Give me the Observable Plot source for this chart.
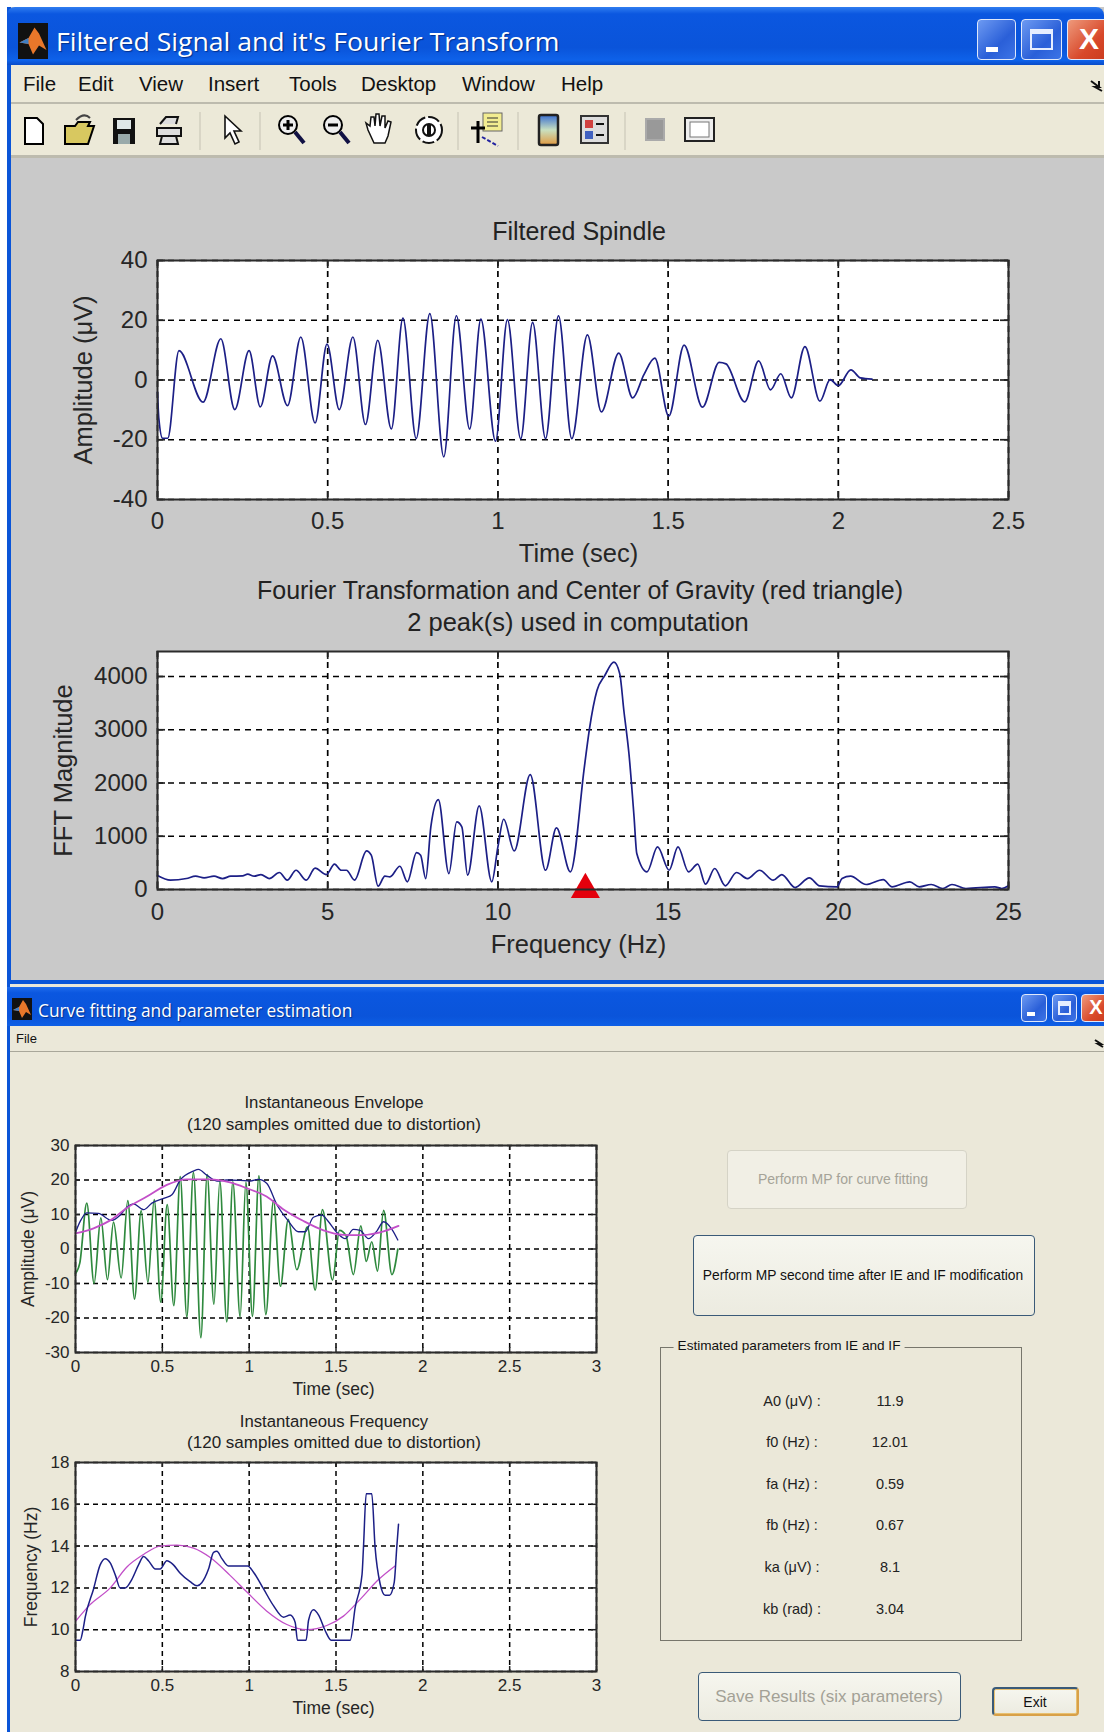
<!DOCTYPE html>
<html>
<head>
<meta charset="utf-8">
<script src="https://cdn.jsdelivr.net/npm/d3@7"></script>
<script src="https://cdn.jsdelivr.net/npm/@observablehq/plot@0.6"></script>
<style>
html,body{margin:0;padding:0;background:#fff}
#page{position:relative;width:1104px;height:1732px;overflow:hidden;font-family:"Liberation Sans",Arial,sans-serif;color:#222}
.abs{position:absolute}
.t{position:absolute;white-space:nowrap;transform:translate(-50%,-50%)}
.l{position:absolute;white-space:nowrap;transform:translateY(-50%)}
.chart{position:absolute;left:0}
.chart svg{background:transparent!important;display:block;overflow:visible}
.btn{position:absolute;box-sizing:border-box;border-radius:4px;background:linear-gradient(#f6f6ef,#ecebe0)}
.wb{position:absolute;box-sizing:border-box;border:1.5px solid #dfe8fb;border-radius:4px;color:#fff;text-align:center;font-weight:bold}
</style>
</head>
<body>
<div id="page"></div>
<script>
// ---------- Filtered spindle ----------
const spindleT = [0,.004,.015,.03,.063,.134,.186,.227,.269,.302,.338,.382,.421,.463,.498,.534,.574,.611,.647,.687,.721,.760,.800,.841,.878,.917,.950,.993,1.028,1.067,1.102,1.14,1.178,1.217,1.263,1.304,1.355,1.396,1.429,1.461,1.502,1.547,1.601,1.650,1.670,1.725,1.766,1.801,1.831,1.862,1.902,1.946,1.976,2.0,2.037,2.065,2.099];
const spindleV = [-4,-13,-19.5,-19.5,9.8,-7.4,13.8,-9.9,9.8,-9,8.1,-8.6,14.4,-14.4,12,-9.9,14.4,-14.9,13.3,-16.4,20.7,-19.6,22.2,-25.7,21.5,-16.4,20.4,-20.5,20.2,-19.7,19.3,-19.6,21.5,-19.6,15.1,-10.7,9,-6,1.8,7.3,-12.1,11.7,-9.1,5.9,5.4,-7.3,6.4,-3.3,2.1,-6,11.2,-7.1,0.1,-1.9,3.4,.7,.3];
// ---------- FFT ----------
const fftF = [0,.38,.85,1.12,1.37,1.66,1.91,2.15,2.5,2.65,2.84,3.04,3.28,3.58,3.81,4.07,4.37,4.63,4.96,5.2,5.4,5.55,5.79,6.14,6.28,6.48,6.68,6.83,7.12,7.34,7.61,7.73,7.88,8.03,8.25,8.56,8.79,8.94,9.11,9.45,9.82,10,10.17,10.48,10.95,11.4,11.72,12.13,12.54,12.69,12.91,13.14,13.41,13.58,13.7,13.85,14,14.08,14.38,14.69,15.03,15.29,15.6,15.87,16.1,16.37,16.68,17.01,17.33,17.69,18.09,18.34,18.73,19.15,19.45,19.96,20.11,20.36,20.82,21.32,21.58,22.1,22.38,22.73,23.07,23.34,23.75,24.6,24.8,25];
const fftM = [262,175,206,250,219,250,206,250,256,287,250,281,206,319,175,362,175,400,281,475,362,362,175,725,644,62,250,237,437,144,694,644,206,1175,1687,300,1269,1175,269,1569,144,800,1319,725,2156,362,1156,331,2300,3019,3737,4019,4269,4050,3362,2550,1362,675,331,800,362,800,331,475,100,394,69,319,206,362,175,281,37,219,69,50,206,250,94,187,50,144,50,94,19,94,19,50,19,69];
const cogF = [12.57];
const cogM = [0];
// ---------- Instantaneous envelope ----------
const signalT = [0,.025,.065,.107,.146,.184,.219,.263,.301,.34,.378,.417,.453,.491,.528,.566,.603,.641,.679,.722,.758,.797,.831,.871,.906,.948,.981,1.019,1.056,1.096,1.14,1.18,1.225,1.274,1.336,1.38,1.422,1.48,1.52,1.558,1.6,1.643,1.674,1.706,1.739,1.774,1.822,1.856];
const signalV = [-7.1,-4,13.3,-10,9,-8.9,7.8,-8.4,14,-14.5,11.1,-9.7,14.3,-15.4,12.9,-16.4,21,-19.7,22.2,-25.7,21.6,-16,19.7,-21.1,19.5,-19.7,19.3,-19.5,21.2,-19,14,-10.8,8.6,-6,6.4,-11.9,11.4,-9,5.4,3.8,-7.4,6.7,-3.6,2.1,-6.4,11.2,-7.4,0];
const envT = [0,.027,.065,.132,.209,.257,.296,.334,.392,.44,.516,.555,.603,.679,.708,.756,.814,.871,.948,1.006,1.054,1.102,1.159,1.226,1.284,1.322,1.37,1.418,1.457,1.505,1.553,1.6,1.639,1.687,1.735,1.774,1.822,1.856];
const envV = [4.8,8,10.5,10.3,8.3,9.8,12.1,13.1,11.4,13.3,14.8,15.7,20,22.6,23.1,21.4,19.7,20,19.9,19.7,20.2,19,12.9,8.1,5,5,9.2,9.8,7.9,4.8,3,5.7,5.4,3,5.2,7.9,5.7,2.6];
const envFitT = [0,.104,.2,.296,.411,.526,.641,.775,.89,.987,1.1,1.2,1.313,1.428,1.543,1.639,1.754,1.86];
const envFitV = [4.5,6,8.3,11.9,15.2,18.6,20.2,20.2,19.3,17.6,15.2,11.4,8.1,5.4,4.1,4,4.8,6.7];
// ---------- Instantaneous frequency ----------
const ifT = [0,.027,.042,.056,.104,.142,.171,.2,.23,.257,.286,.324,.363,.392,.42,.46,.487,.526,.564,.603,.66,.7,.727,.766,.795,.814,.843,.88,.992,1.025,1.083,1.14,1.198,1.236,1.265,1.278,1.328,1.342,1.37,1.4,1.438,1.472,1.582,1.61,1.65,1.658,1.674,1.706,1.725,1.754,1.783,1.808,1.835,1.85,1.86];
const ifV = [9.5,9.5,9.95,10.6,11.95,13.1,13.4,13.2,12.6,12,12,12.4,13.1,13.5,13.3,12.9,12.9,13.3,13.1,12.7,12.3,12.1,12.25,12.9,13.7,13.75,13.4,13.05,13.05,12.75,11.95,11.15,10.6,10.7,10.35,9.5,9.5,10.45,10.95,10.7,9.95,9.5,9.5,11.05,12.65,13.9,16.5,16.5,13.95,12.2,11.65,11.65,12.25,13.95,15.05];
const ifFitT = [0,.084,.2,.296,.392,.487,.584,.68,.776,.89,.987,1.1,1.217,1.332,1.447,1.543,1.639,1.745,1.84];
const ifFitV = [10.4,11.2,12,13,13.6,14,14.05,13.9,13.45,12.6,11.8,10.9,10.25,10,10.2,10.65,11.45,12.4,13.05];
// ---------- Ticks ----------
const xTicks1 = [0,.5,1,1.5,2,2.5];
const yTicks1 = [-40,-20,0,20,40];
const xTicks2 = [0,5,10,15,20,25];
const yTicks2 = [0,1000,2000,3000,4000];
const xTicks3 = [0,.5,1,1.5,2,2.5,3];
const yTicks3 = [-30,-20,-10,0,10,20,30];
const yTicks4 = [8,10,12,14,16,18];
// ---------- Text ----------
const menuTop = [["File",25],["Edit",80],["View",141],["Insert",210],["Tools",291],["Desktop",363],["Window",464],["Help",563]];
const paramNames = ["A0 (μV) :","f0 (Hz) :","fa (Hz) :","fb (Hz) :","ka (μV) :","kb (rad) :"];
const paramValues = ["11.9","12.01","0.59","0.67","8.1","3.04"];
const paramY = [1401,1442,1484,1525,1567,1609];

const page = document.getElementById("page");
function box(css, html){const d=document.createElement("div");d.className="abs";d.style.cssText=css;if(html)d.innerHTML=html;page.appendChild(d);return d;}
function label(text,x,y,size,opts={}){const d=document.createElement("div");d.className="t";d.textContent=text;
  d.style.cssText=`left:${x}px;top:${y}px;font-size:${size}px;${opts.css||""}`;
  page.appendChild(d);return d;}

// window 1 chrome
box("left:7px;top:7px;width:1097px;height:980px;background:#c9c9c9;border-left:4px solid #0a55d8;box-sizing:border-box");
box("left:7px;top:7px;width:1097px;height:58px;border-radius:8px 8px 0 0;background:linear-gradient(#2f7df0 0,#0b57e0 12%,#0a54da 70%,#0e62ea 92%,#0a4cc8 100%)");
box("left:11px;top:65px;width:1093px;height:39px;background:#ece9d8;border-bottom:2px solid #bdbbae;box-sizing:border-box");
box("left:11px;top:104px;width:1093px;height:54px;background:#ece9d8;border-bottom:3px solid #bdbbae;box-sizing:border-box");
box("left:7px;top:980px;width:1097px;height:7px;background:#0a55d8");
// window 2 chrome
box("left:7px;top:984px;width:1097px;height:748px;background:#ebe8d9;border-left:3px solid #0a55d8;box-sizing:border-box");
box("left:7px;top:987px;width:1097px;height:39px;background:linear-gradient(#1f6cec 0,#0b57e0 15%,#0a54da 75%,#0e5fe6 100%)");
box("left:10px;top:1051px;width:1094px;height:1px;background:#a9a79a");

const matlabIcon=(x,y,w,h)=>box(`left:${x}px;top:${y}px;width:${w}px;height:${h}px;background:#111`,
 `<svg width="${w}" height="${h}" viewBox="0 0 20 22"><path d="M1 12 L7 9 L11 2 L14 6 L19 17 L14 14 L10 20 L7 13 Z" fill="#e8772a"/><path d="M1 12 L7 9 L7 13 Z" fill="#3f7fc4"/></svg>`);
matlabIcon(18,23,30,36);
matlabIcon(12,998,20,22);

function wbtns(a,b,c,top,h,fs){
 const blue="background:linear-gradient(135deg,#6d9af2,#2a5fd8 60%,#3d74e6)";
 const m=document.createElement("div");m.className="wb";m.style.cssText=`left:${a[0]}px;width:${a[1]}px;top:${top}px;height:${h}px;${blue}`;
 m.innerHTML=`<div style="position:absolute;left:22%;bottom:18%;width:${Math.round(a[1]*.3)}px;height:${Math.round(h*.13)}px;background:#fff"></div>`;page.appendChild(m);
 const n=document.createElement("div");n.className="wb";n.style.cssText=`left:${b[0]}px;width:${b[1]}px;top:${top}px;height:${h}px;${blue}`;
 n.innerHTML=`<div style="position:absolute;left:20%;right:20%;top:22%;bottom:22%;border:2px solid #e6eeff;border-top-width:5px;box-sizing:border-box"></div>`;page.appendChild(n);
 const x=document.createElement("div");x.className="wb";x.style.cssText=`left:${c[0]}px;width:${c[1]}px;top:${top}px;height:${h}px;background:linear-gradient(135deg,#ee9a7c,#d8482a 60%,#c83a1c);font-size:${fs}px;line-height:${h-3}px`;
 x.textContent="X";page.appendChild(x);
}
wbtns([977,39],[1021,41],[1067,44],19,41,30);
wbtns([1021,26],[1052,25],[1081,30],994,28,20);

// titles + menus
{const t=document.createElement("div");t.className="l";t.textContent="Filtered Signal and it's Fourier Transform";
 t.style.cssText="left:56px;top:41px;font:25px 'Open Sans','Liberation Sans',sans-serif;color:#fff;text-shadow:1px 1px 1px #03308c;transform-origin:0 50%;transform:translateY(-50%) scaleX(1.065)";page.appendChild(t);}
{const t=document.createElement("div");t.className="l";t.textContent="Curve fitting and parameter estimation";
 t.style.cssText="left:38px;top:1010px;font:17.5px 'Open Sans','Liberation Sans',sans-serif;color:#fff;text-shadow:1px 1px 1px #03308c;transform-origin:0 50%;transform:translateY(-50%) scaleX(.99)";page.appendChild(t);}
for(const [m,x] of menuTop){const t=document.createElement("div");t.className="l";t.textContent=m;t.style.cssText=`left:${x-2}px;top:84px;font:20.5px 'Liberation Sans',sans-serif;color:#111`;page.appendChild(t);}
{const t=document.createElement("div");t.className="l";t.textContent="File";t.style.cssText="left:16px;top:1038px;font:13px 'Liberation Sans',sans-serif;color:#111";page.appendChild(t);}
// small chevrons
box("left:1090px;top:78px;width:14px;height:14px",`<svg width="14" height="14"><path d="M1 3 L9 9 L5 9 L12 13 M9 3 L9 9" stroke="#111" stroke-width="2" fill="none"/></svg>`);
box("left:1094px;top:1034px;width:10px;height:10px",`<svg width="10" height="10"><path d="M1 2 L7 6 L4 6 L9 9" stroke="#111" stroke-width="2" fill="none"/></svg>`);

// toolbar icons
box("left:0;top:104px;width:1104px;height:54px",`<svg width="1104" height="54" style="display:block">
 <g stroke="#c5c2b3"><path d="M200 8V46M260 8V46M458 8V46M518 8V46M625 8V46"/></g>
 <g transform="translate(0,-104)">
 <path d="M25 118h12l6 6v20h-18z" fill="#fff" stroke="#000" stroke-width="2"/>
 <path d="M65 126h10l3-4h12l-2 4h6l-6 18H65z" fill="#d8c860" stroke="#000" stroke-width="2"/><path d="M76 120q8-8 14-2" stroke="#444" stroke-width="2" fill="none"/>
 <rect x="113" y="118" width="22" height="26" fill="#111"/><rect x="117" y="120" width="14" height="9" fill="#dfe7e7"/><rect x="118" y="134" width="12" height="10" fill="#9aa"/>
 <path d="M160 124l6-7h12l-2 7M157 128h24v8h-24zM162 136h14l2 8h-18z" fill="#ddd" stroke="#111" stroke-width="2"/>
 <path d="M225 116 L225 138 L230 133 L235 144 L239 142 L234 131 L241 131 Z" fill="#fff" stroke="#111" stroke-width="1.6"/>
 <circle cx="288" cy="125" r="9" fill="#eee" stroke="#000" stroke-width="2"/><path d="M283 125h10M288 120v10" stroke="#000" stroke-width="3"/><path d="M295 132 L304 143" stroke="#114" stroke-width="4"/>
 <circle cx="333" cy="125" r="9" fill="#eee" stroke="#000" stroke-width="2"/><path d="M328 125h10" stroke="#000" stroke-width="3"/><path d="M340 132 L349 143" stroke="#114" stroke-width="4"/>
 <path d="M374 143 l-6-13 l-2-7 l4 3 l1-9 l3 0 l1 9 l1-12 l3 0 l1 12 l2-10 l3 0 l0 12 l3-7 l3 1 l-3 14 l-3 7z" fill="#fff" stroke="#111" stroke-width="1.5"/>
 <circle cx="429" cy="130" r="13" fill="#fff" stroke="#111" stroke-width="2" stroke-dasharray="12 3"/><circle cx="429" cy="130" r="6" fill="#fff" stroke="#111" stroke-width="2"/><rect x="427" y="125" width="4" height="10" fill="#111"/>
 <rect x="483" y="113" width="19" height="18" fill="#f2ec90" stroke="#666"/><path d="M487 118h11M487 122h11M487 126h11" stroke="#333"/><path d="M471 128h14M478 121v22" stroke="#000" stroke-width="3"/><path d="M482 137 L498 146" stroke="#2222a0" stroke-width="2" stroke-dasharray="4 2"/>
 <defs><linearGradient id="cb" x1="0" y1="0" x2="0" y2="1"><stop offset="0" stop-color="#3a6fd0"/><stop offset=".5" stop-color="#c9e0c0"/><stop offset="1" stop-color="#e09a40"/></linearGradient></defs>
 <rect x="539" y="115" width="19" height="30" rx="2" fill="url(#cb)" stroke="#222" stroke-width="2.5"/>
 <rect x="581" y="116" width="27" height="27" fill="#ddd" stroke="#333" stroke-width="2"/><rect x="585" y="120" width="8" height="8" fill="#d04040"/><rect x="585" y="131" width="8" height="8" fill="#4060c0"/><path d="M596 124h8M596 135h8" stroke="#111" stroke-width="2"/>
 <rect x="646" y="119" width="18" height="21" fill="#999" stroke="#aaa" stroke-width="2"/>
 <rect x="685" y="118" width="29" height="23" fill="#eee" stroke="#222" stroke-width="2"/><rect x="690" y="122" width="19" height="15" fill="#fff" stroke="#777"/>
 </g></svg>`);

// chart helper
function chart(cfg){
 const {top,height,ml,mr,mt,mb,xd,yd,xt,yt,fs,lfs,xlabel,ylabel,lines,extra=[],dash,tick,xLabelOffset,yLabelOffset,padX,padY,gridW,xDx} = cfg;
 const inX=(yd[1]-yd[0])*tick/(height-mt-mb), inY=(xd[1]-xd[0])*tick/(1104-ml-mr);
 const marks=[
  Plot.frame({fill:"#fff",stroke:null}),
  Plot.ruleX(xt,{stroke:"#000",strokeWidth:gridW,strokeDasharray:dash}),
  Plot.ruleY(yt,{stroke:"#000",strokeWidth:gridW,strokeDasharray:dash}),
  Plot.ruleX(xt,{y1:yd[0],y2:yd[0]+inX,stroke:"#222",strokeWidth:gridW}),
  Plot.ruleX(xt,{y1:yd[1],y2:yd[1]-inX,stroke:"#222",strokeWidth:gridW}),
  Plot.ruleY(yt,{x1:xd[0],x2:xd[0]+inY,stroke:"#222",strokeWidth:gridW}),
  Plot.ruleY(yt,{x1:xd[1],x2:xd[1]-inY,stroke:"#222",strokeWidth:gridW}),
  ...lines,
  ...extra,
  Plot.frame({stroke:"#2b2b2b",strokeWidth:2}),
  Plot.axisX({ticks:xt,tickSize:0,tickPadding:padX,tickFormat:d=>String(d),label:null,fontSize:fs,fill:"#262626"}),
  Plot.axisY({ticks:yt,tickSize:0,tickPadding:padY,tickFormat:d=>String(d),label:null,fontSize:fs,fill:"#262626"}),
  Plot.text([xlabel],{text:d=>d,frameAnchor:"bottom",lineAnchor:"bottom",dx:xDx,dy:xLabelOffset,fontSize:lfs,fill:"#262626"}),
  Plot.axisY({ticks:[],tickSize:0,label:ylabel,labelAnchor:"center",labelArrow:"none",labelOffset:yLabelOffset,fontSize:lfs,fill:"#262626"})
 ];
 const p=Plot.plot({width:1104,height,marginLeft:ml,marginRight:mr,marginTop:mt,marginBottom:mb,
  x:{domain:xd,range:[ml,1104-mr]},y:{domain:yd,range:[height-mb,mt]},
  style:{fontFamily:"'Liberation Sans',Arial,sans-serif",fontSize:fs+"px",background:"transparent",color:"#262626"},marks});
 const w=document.createElement("div");w.className="chart";w.style.top=top+"px";w.appendChild(p);page.appendChild(w);
}
const navy="#1c1f86", green="#2f8a3e", magenta="#c24fc8";
const L=(x,y,stroke,w)=>Plot.line(y,{x,y,stroke,strokeWidth:w,curve:"monotone-x"});

chart({top:200,height:370,ml:157,mr:96,mt:60,mb:71,xd:[0,2.5],yd:[-40,40],xt:xTicks1,yt:yTicks1,fs:24,lfs:25.5,xDx:-4.5,
 xlabel:"Time (sec)",ylabel:"Amplitude (μV)",xLabelOffset:62.5,yLabelOffset:84,padX:12,padY:10,dash:"6,5",tick:8,gridW:1.7,
 lines:[L(spindleT,spindleV,navy,1.7)]});
chart({top:600,height:360,ml:157,mr:96,mt:51,mb:71,xd:[0,25],yd:[0,4470],xt:xTicks2,yt:yTicks2,fs:24,lfs:25.5,xDx:-4.5,
 xlabel:"Frequency (Hz)",ylabel:"FFT Magnitude",xLabelOffset:63.5,yLabelOffset:104,padX:13,padY:10,dash:"6,5",tick:8,gridW:1.7,
 lines:[L(fftF,fftM,navy,1.7)],
 extra:[Plot.dot(cogF,{x:cogF,y:cogM,symbol:"triangle",r:10.8,fill:"#e4000c",stroke:"none"})]});
chart({top:1100,height:300,ml:75,mr:508,mt:45,mb:48,xd:[0,3],yd:[-30,30],xt:xTicks3,yt:yTicks3,fs:17,lfs:17.5,xDx:-2.5,
 xlabel:"Time (sec)",ylabel:"Amplitude (μV)",xLabelOffset:42,yLabelOffset:54,padX:7,padY:6,dash:"5,4",tick:5,gridW:1.5,
 lines:[L(signalT,signalV,green,1.7),L(envT,envV,navy,1.3),L(envFitT,envFitV,magenta,1.8)]});
chart({top:1420,height:300,ml:75,mr:508,mt:42,mb:49,xd:[0,3],yd:[8,18],xt:xTicks3,yt:yTicks4,fs:17,lfs:17.5,xDx:-2.5,
 xlabel:"Time (sec)",ylabel:"Frequency (Hz)",xLabelOffset:42,yLabelOffset:51,padX:7,padY:6,dash:"5,4",tick:5,gridW:1.5,
 lines:[L(ifFitT,ifFitV,magenta,1.3),L(ifT,ifV,navy,1.5)]});

// titles
label("Filtered Spindle",579,231,25);
label("Fourier Transformation and Center of Gravity (red triangle)",580,590,25);
label("2 peak(s) used in computation",578,622,25.5);
label("Instantaneous Envelope",334,1103,16.7);
label("(120 samples omitted due to distortion)",334,1125,17);
label("Instantaneous Frequency",334,1422,16.7);
label("(120 samples omitted due to distortion)",334,1443,17);

// right-hand controls
const b1=document.createElement("div");b1.className="btn";b1.style.cssText="left:727px;top:1150px;width:240px;height:59px;border:1px solid #d5d3c6;background:#f1efe5";page.appendChild(b1);
label("Perform MP for curve fitting",843,1179,14,{css:"color:#a5a398"});
const b2=document.createElement("div");b2.className="btn";b2.style.cssText="left:693px;top:1235px;width:342px;height:81px;border:1.5px solid #3a5a78";page.appendChild(b2);
label("Perform MP second time after IE and IF modification",863,1275,13.8,{css:"color:#111"});
box("left:660px;top:1347px;width:362px;height:294px;border:1px solid #77766c;border-right-width:1.5px;border-bottom-width:1.5px;box-sizing:border-box");
label("Estimated parameters from IE and IF",789,1345,13.6,{css:"color:#111;background:#ebe8d9;padding:0 4px"});
paramNames.forEach((n,i)=>{label(n,792,paramY[i],14.5,{css:"color:#222"});label(paramValues[i],890,paramY[i],14.5,{css:"color:#222"});});
const b3=document.createElement("div");b3.className="btn";b3.style.cssText="left:698px;top:1672px;width:263px;height:49px;border:1.5px solid #3a5a78";page.appendChild(b3);
label("Save Results (six parameters)",829,1697,17,{css:"color:#a3a196"});
const b4=document.createElement("div");b4.className="btn";b4.style.cssText="left:992px;top:1687px;width:87px;height:29px;border:2px solid #3a5a78;border-bottom-color:#d8a048;border-right-color:#d8a048;box-shadow:inset 0 0 0 1px #e8c070";page.appendChild(b4);
label("Exit",1035,1702,14,{css:"color:#111"});
</script>
</body>
</html>
